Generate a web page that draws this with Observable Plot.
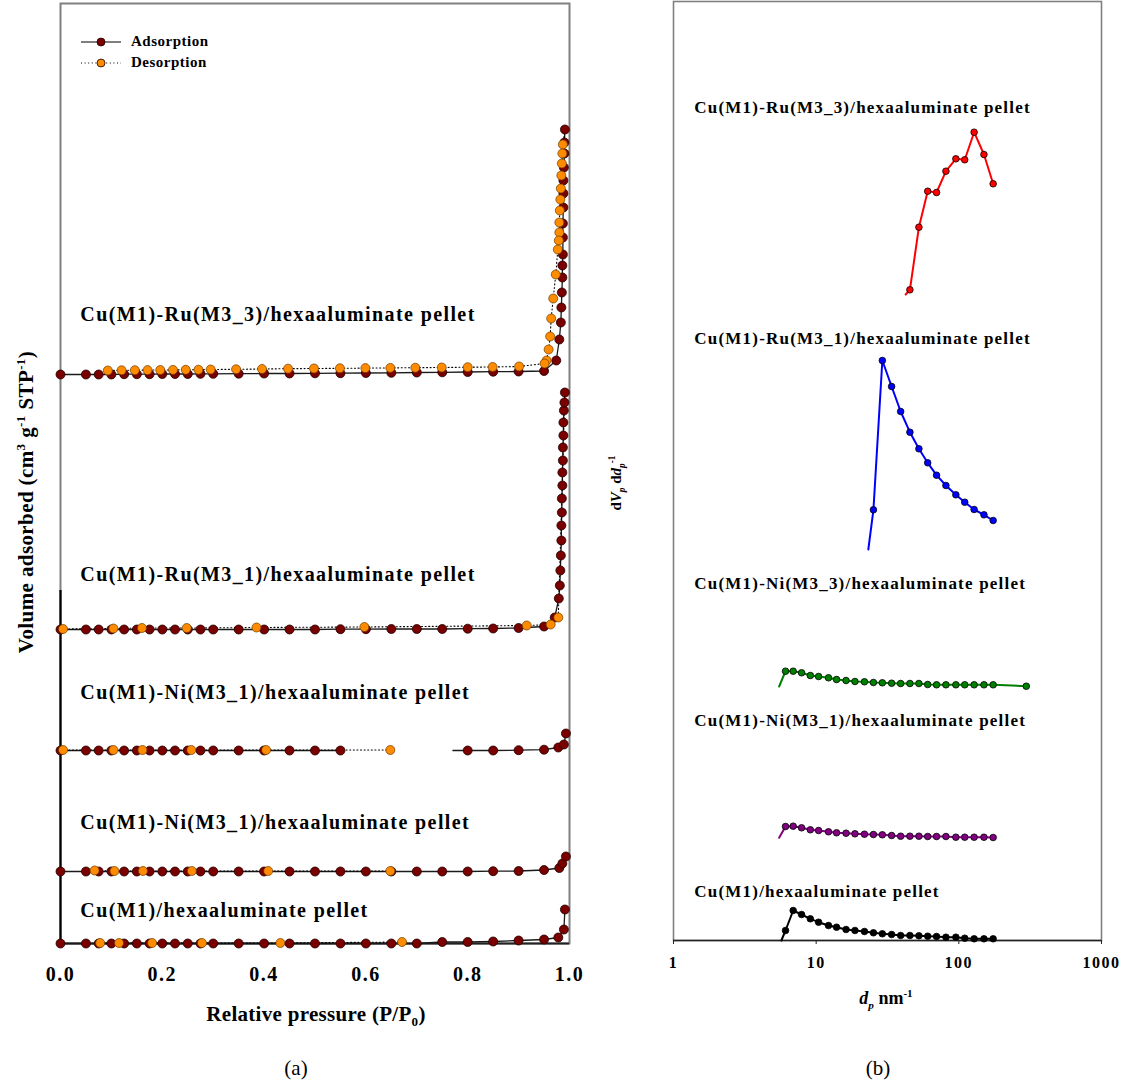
<!DOCTYPE html>
<html><head><meta charset="utf-8">
<script src="https://cdn.jsdelivr.net/npm/d3@7"></script>
<script src="https://cdn.jsdelivr.net/npm/@observablehq/plot@0.6"></script>
<style>
html,body{margin:0;padding:0;background:#fff;}
#wrap{position:relative;width:1126px;height:1083px;overflow:hidden;font-family:"Liberation Serif","Times New Roman",serif;color:#000;}
.panel{position:absolute;top:0;}
.lbl{position:absolute;white-space:nowrap;line-height:1;}
.c{transform:translate(-50%,-50%);}
.r{transform:translate(-50%,-50%) rotate(-90deg);}
sup,sub{font-size:0.62em;line-height:0;}
</style></head>
<body><div id="wrap"></div>
<script>
// ================= Panel (a): N2 adsorption-desorption isotherms =================
const isoNames = [
  "Cu(M1)-Ru(M3_3)/hexaaluminate pellet",
  "Cu(M1)-Ru(M3_1)/hexaaluminate pellet",
  "Cu(M1)-Ni(M3_1)/hexaaluminate pellet",
  "Cu(M1)-Ni(M3_1)/hexaaluminate pellet",
  "Cu(M1)/hexaaluminate pellet"
];
const isoOffsets = [569, 314, 193, 72, 0];        // vertical shift of each isotherm
const isoLabelLift = [60, 55, 58, 49, 33];        // label height above its isotherm
const isoLabelP = 0.039;
const isoTicks = [0, 0.2, 0.4, 0.6, 0.8, 1.0];
const leftLineV = [0, 353];

const adsGridP = [0, 0.05, 0.075, 0.1, 0.125, 0.15, 0.175, 0.2, 0.225, 0.25, 0.275, 0.3,
  0.35, 0.4, 0.45, 0.5, 0.55, 0.6, 0.65, 0.7, 0.75, 0.8, 0.85, 0.9, 0.95];

// Cu(M1)-Ru(M3_3)
const ru3AdsV = [0, 0, 0, 0, 0.3, 0.3, 0.3, 0.5, 0.5, 0.5, 0.7, 0.7, 0.8, 1, 1, 1.2, 1.3, 1.5, 1.7, 2, 2.2, 2.5, 2.8, 3, 3.5];
const ru3TailP = [0.974, 0.980, 0.983, 0.984, 0.985, 0.986, 0.986, 0.987, 0.987, 0.987, 0.988, 0.988, 0.988, 0.989, 0.990, 0.990, 0.991];
const ru3TailV = [14, 35, 52, 67, 82, 97, 109, 120, 137, 151, 167, 181, 194, 207, 221, 232, 245];
const ru3DesP = [0.991, 0.987, 0.986, 0.985, 0.984, 0.983, 0.982, 0.981, 0.980, 0.980, 0.979, 0.977, 0.973, 0.968, 0.964, 0.962, 0.959, 0.955, 0.951, 0.901,
  0.849, 0.800, 0.749, 0.697, 0.648, 0.599, 0.549, 0.498, 0.447, 0.396, 0.345, 0.295, 0.271, 0.246, 0.221, 0.196, 0.171, 0.146, 0.120, 0.093];
const ru3DesV = [245, 230, 221, 211, 199, 186, 175, 164, 152, 142, 134, 125, 100, 76, 56, 38, 25, 14, 11, 8,
  7.5, 7.3, 7, 6.8, 6.6, 6.4, 6.2, 6, 5.8, 5.5, 5.2, 5, 4.8, 4.7, 4.6, 4.5, 4.4, 4.3, 4.2, 4];

// Cu(M1)-Ru(M3_1)
const ru1AdsV = [0, 0, 0, 0, 0, 0, 0, 0, 0, 0, 0, 0, 0, 0, 0, 0, 0.3, 0.3, 0.5, 0.5, 0.5, 0.8, 1, 1.5, 3];
const ru1TailP = [0.971, 0.979, 0.981, 0.982, 0.983, 0.984, 0.984, 0.985, 0.985, 0.986, 0.986, 0.987, 0.987, 0.988, 0.988, 0.989, 0.990, 0.991];
const ru1TailV = [12, 31, 44, 59, 74, 89, 104, 117, 131, 144, 157, 169, 182, 194, 207, 219, 227, 237];
const ru1DesP = [0.991, 0.978, 0.963, 0.916, 0.597, 0.385, 0.248, 0.160, 0.104, 0.005];
const ru1DesV = [237, 12, 5, 4, 2.5, 2, 1.5, 1.5, 1, 0.5];

// Cu(M1)-Ni(M3_1) (upper) — adsorption line resumes at 0.771 after a gap
const ni1aAdsV = [0, 0, 0, 0, 0, 0, 0, 0, 0, 0, 0, 0, 0, 0, 0, 0, 0, null, null, null, null, 0, 0, 0.3, 0.8];
const ni1aResumeP = [0.771];
const ni1aResumeV = [0];
const ni1aTailP = [0.978, 0.989, 0.993];
const ni1aTailV = [3, 6, 17];
const ni1aDesP = [0.648, 0.404, 0.257, 0.161, 0.104, 0.005];
const ni1aDesV = [0.5, 0.5, 0.5, 0.5, 0.5, 0.5];

// Cu(M1)-Ni(M3_1) (lower)
const ni1bAdsV = [0, 0, 0, 0, 0, 0, 0, 0, 0, 0, 0, 0, 0, 0, 0, 0, 0, 0, 0, 0, 0, 0, 0.3, 0.5, 1.5];
const ni1bTailP = [0.980, 0.986, 0.993];
const ni1bTailV = [3.5, 8, 15];
const ni1bDesP = [0.648, 0.408, 0.258, 0.162, 0.106, 0.067];
const ni1bDesV = [0.5, 0.5, 0.5, 0.5, 0.5, 1];

// Cu(M1)
const cuAdsV = [0, 0, 0, 0, 0, 0, 0, 0, 0, 0, 0, 0, 0, 0, 0, 0, 0, 0, 0, 0, 1.5, 1.5, 2, 3, 4];
const cuTailP = [0.978, 0.989, 0.991];
const cuTailV = [6, 14, 34];
const cuDesP = [0.671, 0.432, 0.278, 0.180, 0.115, 0.078];
const cuDesV = [1.5, 0.5, 0.5, 0.5, 0.5, 0.5];

// ================= Panel (b): pore size distributions =================
const psdNames = [
  "Cu(M1)-Ru(M3_3)/hexaaluminate pellet",
  "Cu(M1)-Ru(M3_1)/hexaaluminate pellet",
  "Cu(M1)-Ni(M3_3)/hexaaluminate pellet",
  "Cu(M1)-Ni(M3_1)/hexaaluminate pellet",
  "Cu(M1)/hexaaluminate pellet"
];
const psdColors = ["#ff0000", "#0000ff", "#008000", "#800080", "#000000"];
const psdOffsets = [640, 390, 250, 100, 0];
const psdLabelLift = [193, 212, 107, 120, 49];
const psdLabelD = 1.4;
const psdTicks = [1, 10, 100, 1000];
const dGrid = [6.1, 6.9, 7.9, 9.1, 10.4, 12.2, 13.9, 16.2, 18.7, 21.8, 25.2, 29.1, 33.8, 39.1,
  45.4, 52.5, 60.5, 69.8, 81.2, 95.3, 110, 128, 150, 174];
const psdStartD = [42.4, 23.2, 5.5, 5.5, 5.7];   // line starts (no marker)
const psdStartV = [6, 1, 4, 2.7, 0];
const psdFirstIndex = [14, 10, 0, 0, 0];
const ru3PsdV = [10.7, 73.3, 109.3, 108, 129.3, 141.7, 140.7, 168.3, 146, 116.7];
const ru1PsdV = [40.7, 190, 164, 139, 118.3, 101.7, 87.7, 75.3, 65, 55.7, 48.3, 41, 35.7, 30];
const ni3PsdV = [19.3, 19.3, 17.7, 15, 14, 12.7, 11, 10, 9, 8.7, 8, 7.7, 7.3, 7, 7, 7, 6, 5.7, 5.7, 5.7, 5.7, 5.7, 5.7, 5.7];
const ni3ExtraD = [297];
const ni3ExtraV = [4.3];
const ni1PsdV = [14, 14.3, 12.7, 10.7, 10, 8.7, 7.7, 7.3, 6.7, 6.3, 6, 5.7, 5, 4.3, 4.3, 4.3, 4, 4, 4, 3.3, 3.3, 3.3, 3.3, 3];
const cuPsdV = [10, 30, 26, 21.7, 18.3, 15, 13.3, 11, 10, 9, 7.7, 6.7, 6, 5, 5, 4.7, 4.3, 4, 3.3, 3.3, 2.3, 1.7, 1.7, 1.7];

// ================= Build tables =================
const FONT = '"Liberation Serif","Times New Roman",serif';
const isoSeries = [
  {ads: ru3AdsV, tp: ru3TailP, tv: ru3TailV, dp: ru3DesP, dv: ru3DesV},
  {ads: ru1AdsV, tp: ru1TailP, tv: ru1TailV, dp: ru1DesP, dv: ru1DesV},
  {ads: ni1aAdsV, tp: ni1aTailP, tv: ni1aTailV, dp: ni1aDesP, dv: ni1aDesV, rp: ni1aResumeP, rv: ni1aResumeV},
  {ads: ni1bAdsV, tp: ni1bTailP, tv: ni1bTailV, dp: ni1bDesP, dv: ni1bDesV},
  {ads: cuAdsV, tp: cuTailP, tv: cuTailV, dp: cuDesP, dv: cuDesV}
];
const adsData = [], desData = [];
isoSeries.forEach((s, k) => {
  const off = isoOffsets[k];
  const rows = [];
  adsGridP.forEach((p, i) => rows.push({k, p, v: s.ads[i] == null ? null : off + s.ads[i], dot: true}));
  if (s.rp) s.rp.forEach((p, i) => rows.push({k, p, v: off + s.rv[i], dot: false}));
  s.tp.forEach((p, i) => rows.push({k, p, v: off + s.tv[i], dot: true}));
  rows.sort((a, b) => a.p - b.p);
  adsData.push(...rows);
  const topP = s.tp[s.tp.length - 1];
  s.dp.forEach((p, i) => desData.push({k, p, v: off + s.dv[i], dot: !(i === 0 && p === topP)}));
});
const isoLabels = isoNames.map((name, k) => ({name, v: isoOffsets[k] + isoLabelLift[k]}));

const psdValues = [ru3PsdV, ru1PsdV, ni3PsdV, ni1PsdV, cuPsdV];
const psdData = psdValues.map((vals, k) => {
  const off = psdOffsets[k];
  const rows = [{d: psdStartD[k], v: off + psdStartV[k], dot: false}];
  vals.forEach((v, i) => rows.push({d: dGrid[psdFirstIndex[k] + i], v: off + v, dot: true}));
  if (k === 2) ni3ExtraD.forEach((d, i) => rows.push({d, v: off + ni3ExtraV[i], dot: true}));
  return rows;
});
const psdLabels = psdNames.map((name, k) => ({name, v: psdOffsets[k] + psdLabelLift[k]}));

// ================= Plot (a) =================
const plotA = Plot.plot({
  width: 600, height: 1000,
  marginLeft: 60, marginRight: 31, marginTop: 3, marginBottom: 57,
  style: {fontFamily: FONT, fontWeight: "bold", background: "transparent"},
  x: {domain: [0, 1], label: null},
  y: {domain: [0, 940], axis: null},
  marks: [
    Plot.frame({stroke: "#808080", strokeWidth: 2}),
    Plot.ruleY([0], {stroke: "#222", strokeWidth: 1.8}),
    Plot.ruleX([0], {y1: leftLineV[0], y2: leftLineV[1], stroke: "#000", strokeWidth: 2.2}),
    Plot.line(adsData, {x: "p", y: "v", z: "k", stroke: "#1a1a1a", strokeWidth: 1.3}),
    Plot.line(desData, {x: "p", y: "v", z: "k", stroke: "#000", strokeWidth: 1.1, strokeDasharray: "1,2.6"}),
    Plot.dot(adsData.filter(d => d.dot), {x: "p", y: "v", r: 4.5, fill: "#7a0000", stroke: "#200000", strokeWidth: 0.8}),
    Plot.dot(desData.filter(d => d.dot), {x: "p", y: "v", r: 4.5, fill: "#ff8c00", stroke: "#6b3b00", strokeWidth: 0.7}),
    Plot.text(isoLabels, {x: () => isoLabelP, y: "v", text: "name", textAnchor: "start", fontSize: 20, fontWeight: "bold", fill: "#000"}),
    Plot.axisX({ticks: isoTicks, tickFormat: d3.format(".1f"), tickSize: 0, tickPadding: 23, fontSize: 20, fontWeight: "bold", label: null})
  ]
});

// ================= Plot (b) =================
const psdMarks = [
  Plot.frame({stroke: "#808080", strokeWidth: 1.6}),
  Plot.ruleY([0], {stroke: "#222", strokeWidth: 1.6})
];
psdData.forEach((rows, k) => {
  psdMarks.push(Plot.line(rows, {x: "d", y: "v", stroke: psdColors[k], strokeWidth: 2}));
  psdMarks.push(Plot.dot(rows.filter(r => r.dot), {x: "d", y: "v", r: 3.3, fill: psdColors[k], stroke: "#000", strokeWidth: 0.8}));
});
psdMarks.push(Plot.text(psdLabels, {x: () => psdLabelD, y: "v", text: "name", textAnchor: "start", fontSize: 17, fontWeight: "bold", fill: "#000"}));
psdMarks.push(Plot.axisX({ticks: psdTicks, tickFormat: d => String(d), tickSize: 4, tickPadding: 12, fontSize: 16, fontWeight: "bold", label: null, stroke: "#222"}));

const plotB = Plot.plot({
  width: 526, height: 1000,
  marginLeft: 73, marginRight: 25, marginTop: 1, marginBottom: 60,
  style: {fontFamily: FONT, fontWeight: "bold", background: "transparent"},
  x: {type: "log", domain: [1, 1000], label: null},
  y: {domain: [0, 939], axis: null},
  marks: psdMarks
});

// ================= Assemble page =================
const wrap = document.getElementById("wrap");
plotA.classList.add("panel"); plotA.style.left = "0px";
plotB.classList.add("panel"); plotB.style.left = "600px";
wrap.appendChild(plotA);
wrap.appendChild(plotB);

function spacing(svg, sel, ls) {
  svg.querySelectorAll(sel).forEach(t => t.setAttribute("letter-spacing", ls));
}
spacing(plotA, 'g[aria-label="text"] text', "1.4px");
spacing(plotA, 'g[aria-label="x-axis tick label"] text', "1.5px");
spacing(plotB, 'g[aria-label="text"] text', "1.2px");
spacing(plotB, 'g[aria-label="x-axis tick label"] text', "1.5px");

function addLabel(html, cls, css) {
  const el = document.createElement("div");
  el.className = "lbl " + cls;
  el.innerHTML = html;
  Object.assign(el.style, css);
  wrap.appendChild(el);
  return el;
}
addLabel('Volume adsorbed (cm<sup>3</sup> g<sup>-1</sup> STP<sup>-1</sup>)', "r",
  {left: "26px", top: "502px", fontSize: "21px", fontWeight: "bold", letterSpacing: "0.4px"});
addLabel('Relative pressure (P/P<sub>0</sub>)', "c",
  {left: "316px", top: "1014px", fontSize: "21px", fontWeight: "bold", letterSpacing: "0.3px"});
addLabel('d<i>V</i><sub><i>p</i></sub> d<i>d</i><sub><i>p</i></sub><sup>-1</sup>', "r",
  {left: "616px", top: "483px", fontSize: "15px", fontWeight: "bold"});
addLabel('<i>d</i><sub><i>p</i></sub> nm<sup>-1</sup>', "c",
  {left: "886px", top: "998px", fontSize: "18px", fontWeight: "bold"});
addLabel('(a)', "c", {left: "296px", top: "1068px", fontSize: "21px"});
addLabel('(b)', "c", {left: "878px", top: "1068px", fontSize: "21px"});

// legend (panel a)
const legendNames = ["Adsorption", "Desorption"];
const leg = document.createElement("div");
leg.className = "lbl";
Object.assign(leg.style, {left: "80px", top: "31px"});
leg.innerHTML = legendNames.map((name, i) => {
  const dash = i === 0 ? "" : 'stroke-dasharray="1,2.6"';
  const fill = i === 0 ? "#7a0000" : "#ff8c00";
  return `<div style="display:flex;align-items:center;height:21px;">
    <svg width="42" height="12" style="overflow:visible"><line x1="1" x2="41" y1="6" y2="6" stroke="#000" stroke-width="1.2" ${dash}/>
    <circle cx="21" cy="6" r="4" fill="${fill}" stroke="#200000" stroke-width="0.8"/></svg>
    <span style="margin-left:9px;font-size:15px;font-weight:bold;letter-spacing:0.5px">${name}</span></div>`;
}).join("");
wrap.appendChild(leg);
</script></body></html>
